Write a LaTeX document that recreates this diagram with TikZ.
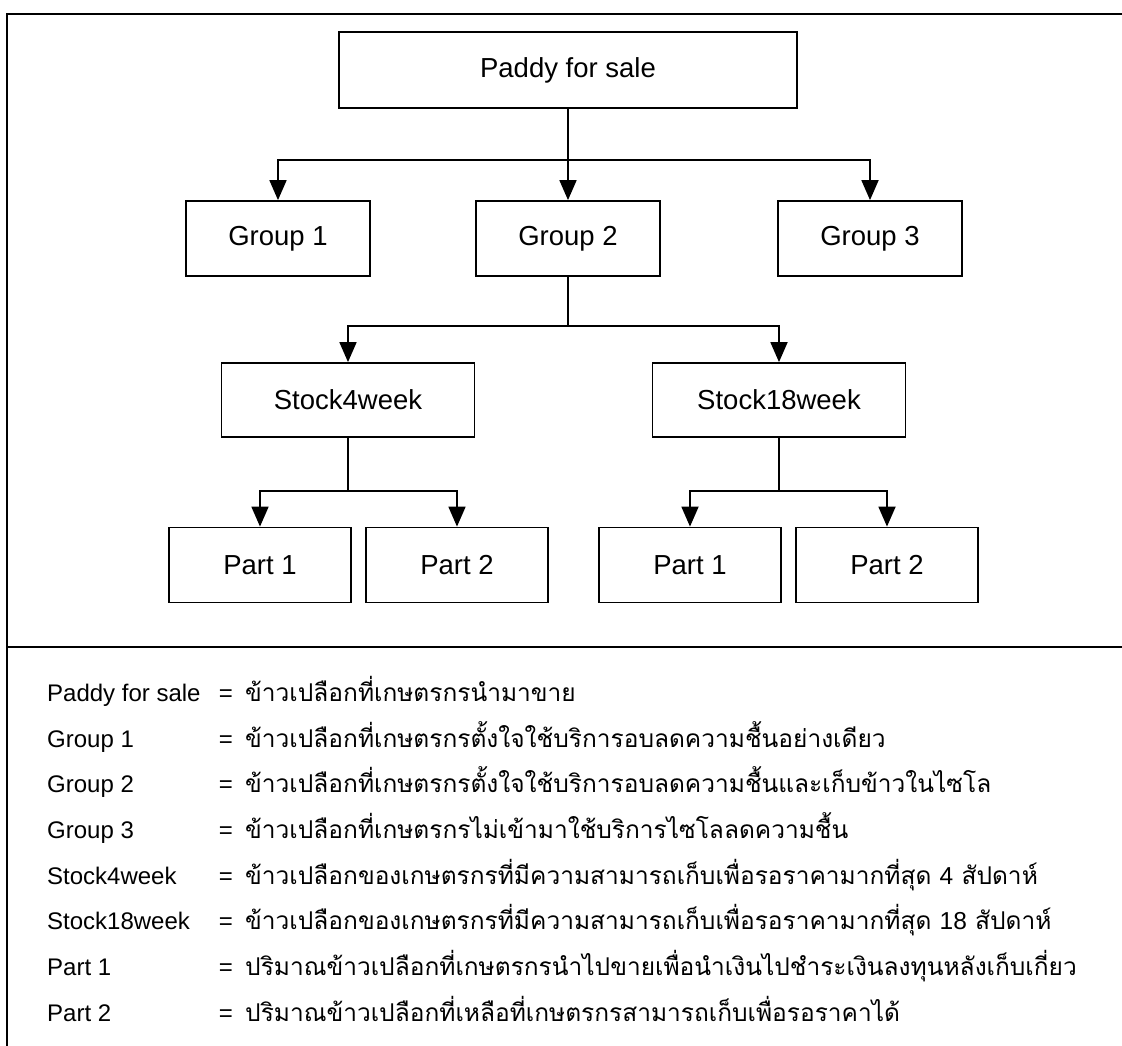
\documentclass[tikz,border=0pt]{standalone}
\usepackage{fontspec}
\setmainfont{Liberation Sans}
\newfontfamily\thaifont[Script=Thai]{Loma}
\usetikzlibrary{arrows.meta}

\begin{document}
\begin{tikzpicture}[x=1pt,y=-1pt,
  box/.style={draw=black, line width=1.8pt, rectangle, inner sep=0pt,
              font=\fontsize{27.5}{30}\selectfont},
  wide/.style={box, minimum width=458pt, minimum height=76pt},
  grp/.style={box, minimum width=184pt, minimum height=75pt},
  stk/.style={box, minimum width=253pt, minimum height=74pt},
  prt/.style={box, minimum width=182pt, minimum height=75pt},
  link/.style={line width=1.8pt},
  arr/.style={link, -{Triangle[width=17pt,length=20pt]}},
  frame/.style={line width=2pt},
  lbl/.style={inner sep=0pt, anchor=base west, font=\fontsize{24}{28}\selectfont},
  eqs/.style={inner sep=0pt, anchor=base, font=\fontsize{24}{28}\selectfont},
  desc/.style={inner sep=0pt, anchor=base west, font=\fontsize{24.5}{28}\selectfont\thaifont},
]
\useasboundingbox (0,0) rectangle (1122,1046);

% outer frame and divider between chart and legend
\coordinate (ftl) at (7,14);
\coordinate (ftr) at (1122,14);
\coordinate (fbl) at (7,1046);
\coordinate (dvl) at (7,647);
\coordinate (dvr) at (1122,647);
\draw[frame] (ftr) -- (ftl) -- (fbl);
\draw[frame] (dvl) -- (dvr);

% tree nodes
\node[wide] (paddy) at (568,70) {Paddy for sale};
\node[grp] (g1) at (278,238.5) {Group 1};
\node[grp] (g2) at (568,238.5) {Group 2};
\node[grp] (g3) at (870,238.5) {Group 3};
\node[stk] (s4) at (348,400) {Stock4week};
\node[stk] (s18) at (779,400) {Stock18week};
\node[prt] (p1a) at (260,565) {Part 1};
\node[prt] (p2a) at (457,565) {Part 2};
\node[prt] (p1b) at (690,565) {Part 1};
\node[prt] (p2b) at (887,565) {Part 2};

% junction points of the connectors
\coordinate (j0) at (568,160);
\coordinate (j1) at (568,326);
\coordinate (j2) at (348,491);
\coordinate (j3) at (779,491);

\draw[link] (paddy.south) -- (j0);
\draw[arr] (j0) -| (g1.north);
\draw[arr] (j0) -- (g2.north);
\draw[arr] (j0) -| (g3.north);

\draw[link] (g2.south) -- (j1);
\draw[arr] (j1) -| (s4.north);
\draw[arr] (j1) -| (s18.north);

\draw[link] (s4.south) -- (j2);
\draw[arr] (j2) -| (p1a.north);
\draw[arr] (j2) -| (p2a.north);

\draw[link] (s18.south) -- (j3);
\draw[arr] (j3) -| (p1b.north);
\draw[arr] (j3) -| (p2b.north);

% legend
\node[lbl] (k1) at (47,701) {Paddy for sale};
\node[eqs] (e1) at (226,701) {=};
\node[desc] (d1) at (245,701) {ข้าวเปลือกที่เกษตรกรนำมาขาย};

\node[lbl] (k2) at (47,747) {Group 1};
\node[eqs] (e2) at (226,747) {=};
\node[desc] (d2) at (245,747) {ข้าวเปลือกที่เกษตรกรตั้งใจใช้บริการอบลดความชื้นอย่างเดียว};

\node[lbl] (k3) at (47,792) {Group 2};
\node[eqs] (e3) at (226,792) {=};
\node[desc] (d3) at (245,792) {ข้าวเปลือกที่เกษตรกรตั้งใจใช้บริการอบลดความชื้นและเก็บข้าวในไซโล};

\node[lbl] (k4) at (47,838) {Group 3};
\node[eqs] (e4) at (226,838) {=};
\node[desc] (d4) at (245,838) {ข้าวเปลือกที่เกษตรกรไม่เข้ามาใช้บริการไซโลลดความชื้น};

\node[lbl] (k5) at (47,884) {Stock4week};
\node[eqs] (e5) at (226,884) {=};
\node[desc] (d5) at (245,884) {ข้าวเปลือกของเกษตรกรที่มีความสามารถเก็บเพื่อรอราคามากที่สุด {\rmfamily 4} สัปดาห์};

\node[lbl] (k6) at (47,929) {Stock18week};
\node[eqs] (e6) at (226,929) {=};
\node[desc] (d6) at (245,929) {ข้าวเปลือกของเกษตรกรที่มีความสามารถเก็บเพื่อรอราคามากที่สุด {\rmfamily 18} สัปดาห์};

\node[lbl] (k7) at (47,975) {Part 1};
\node[eqs] (e7) at (226,975) {=};
\node[desc] (d7) at (245,975) {ปริมาณข้าวเปลือกที่เกษตรกรนำไปขายเพื่อนำเงินไปชำระเงินลงทุนหลังเก็บเกี่ยว};

\node[lbl] (k8) at (47,1021) {Part 2};
\node[eqs] (e8) at (226,1021) {=};
\node[desc] (d8) at (245,1021) {ปริมาณข้าวเปลือกที่เหลือที่เกษตรกรสามารถเก็บเพื่อรอราคาได้};
\end{tikzpicture}
\end{document}
